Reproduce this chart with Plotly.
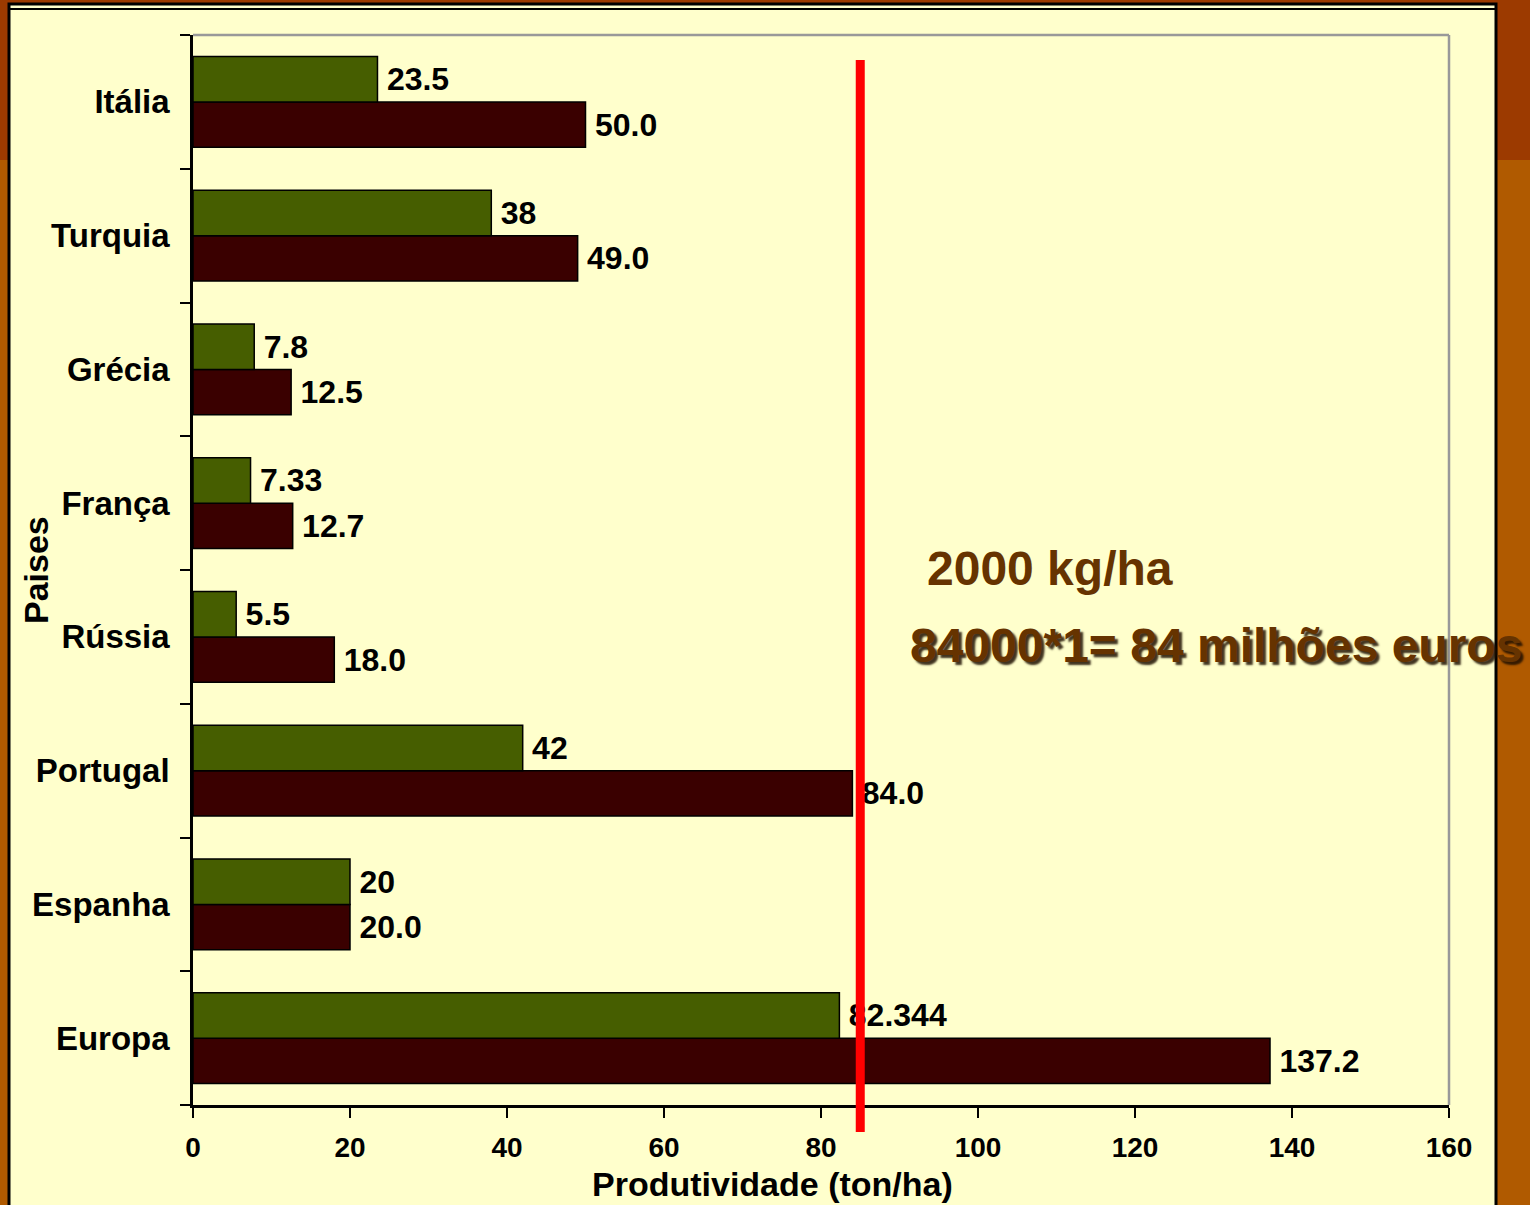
import plotly.graph_objects as go

# Data (bottom to top on the chart)
paises = ["Europa", "Espanha", "Portugal", "Rússia", "França", "Grécia", "Turquia", "Itália"]
serie_verde = [82.344, 20, 42, 5.5, 7.33, 7.8, 38, 23.5]
serie_bordo = [137.2, 20.0, 84.0, 18.0, 12.7, 12.5, 49.0, 50.0]
x_ticks = [0, 20, 40, 60, 80, 100, 120, 140, 160]
linha_ref = 85

W, H = 1530, 1205
L, R, T, B = 193, 81, 35, 100
PW, PH = W - L - R, H - T - B


def px_x(p):
    return (p - L) / PW


def px_y(p):
    return (H - B - p) / PH


FONT = "Liberation Sans, Arial, sans-serif"
SP = "\u2009"

fig = go.Figure()
fig.add_trace(go.Bar(
    y=paises, x=serie_bordo, orientation="h",
    marker=dict(color="#3A0000", line=dict(color="#000000", width=1.5)),
    text=[SP + f"{v:.1f}" for v in serie_bordo], textposition="outside",
    textfont=dict(family=FONT, size=32, color="#000000", weight="bold"),
    cliponaxis=False, showlegend=False,
))
fig.add_trace(go.Bar(
    y=paises, x=serie_verde, orientation="h",
    marker=dict(color="#465E00", line=dict(color="#000000", width=1.5)),
    text=[SP + f"{v:g}" for v in serie_verde], textposition="outside",
    textfont=dict(family=FONT, size=32, color="#000000", weight="bold"),
    cliponaxis=False, showlegend=False,
))

shapes = [
    # orange backgrounds
    dict(type="rect", xref="paper", yref="paper", x0=px_x(0), x1=px_x(W), y0=px_y(160), y1=px_y(0),
         fillcolor="#9C3A00", line=dict(width=0), layer="below"),
    # yellow panel
    dict(type="rect", xref="paper", yref="paper", x0=px_x(9), x1=px_x(1496), y0=px_y(H + 20), y1=px_y(4),
         fillcolor="#FFFFCC", line=dict(color="#000000", width=3), layer="below"),
    # inner top double line
    dict(type="line", xref="paper", yref="paper", x0=px_x(9), x1=px_x(1496), y0=px_y(9), y1=px_y(9),
         line=dict(color="#000000", width=2), layer="below"),
    # plot border (gray top/right)
    dict(type="line", xref="paper", yref="paper", x0=0, x1=1, y0=1, y1=1,
         line=dict(color="#999999", width=2.5), layer="below"),
    dict(type="line", xref="paper", yref="paper", x0=1, x1=1, y0=0, y1=1,
         line=dict(color="#999999", width=2.5), layer="below"),
    # red reference line
    dict(type="line", xref="x", yref="paper", x0=linha_ref, x1=linha_ref, y0=px_y(1132), y1=px_y(60),
         line=dict(color="#FF0000", width=9), layer="above"),
]

annotations = [
    dict(text="2000 kg/ha", xref="paper", yref="paper", x=px_x(925), y=px_y(568),
         xanchor="left", yanchor="middle", showarrow=False,
         font=dict(family=FONT, size=48, color="#663300", weight="bold")),
    dict(text="84000*1= 84 milhões euros", xref="paper", yref="paper", x=px_x(908), y=px_y(645),
         xanchor="left", yanchor="middle", showarrow=False,
         font=dict(family=FONT, size=48, color="#663300", weight="bold",
                   shadow="3px 3px 2px rgba(30,15,0,0.85)")),
    dict(text="Produtividade (ton/ha)", xref="paper", yref="paper", x=px_x(772), y=px_y(1184),
         xanchor="center", yanchor="middle", showarrow=False,
         font=dict(family=FONT, size=34, color="#000000", weight="bold")),
    dict(text="Paises", xref="paper", yref="paper", x=px_x(36), y=px_y(570), textangle=-90,
         xanchor="center", yanchor="middle", showarrow=False,
         font=dict(family=FONT, size=34, color="#000000", weight="bold")),
]

fig.update_layout(
    width=W, height=H,
    margin=dict(l=L, r=R, t=T, b=B, pad=0),
    paper_bgcolor="#B05A00",
    plot_bgcolor="#FFFFCC",
    barmode="group", bargap=0.32, bargroupgap=0,
    shapes=shapes, annotations=annotations,
    showlegend=False,
)
fig.update_xaxes(
    range=[0, 160], tickvals=x_ticks, ticktext=[str(v) for v in x_ticks],
    showgrid=False, zeroline=False,
    showline=True, linecolor="#000000", linewidth=2.5,
    ticks="outside", ticklen=10, tickwidth=2, tickcolor="#000000",
    tickfont=dict(family=FONT, size=28, color="#000000", weight="bold"),
    ticklabelstandoff=6,
)
fig.update_yaxes(
    categoryorder="array", categoryarray=paises,
    showgrid=False, zeroline=False,
    showline=True, linecolor="#000000", linewidth=2.5,
    ticks="outside", ticklen=10, tickwidth=2, tickcolor="#000000",
    tickson="boundaries",
    tickfont=dict(family=FONT, size=33, color="#000000", weight="bold"),
    ticklabelstandoff=14,
)

fig.write_html(
    "out.html",
    config={"displayModeBar": False},
    post_script="document.body.style.margin='0';document.body.style.background='#B05A00';",
)
